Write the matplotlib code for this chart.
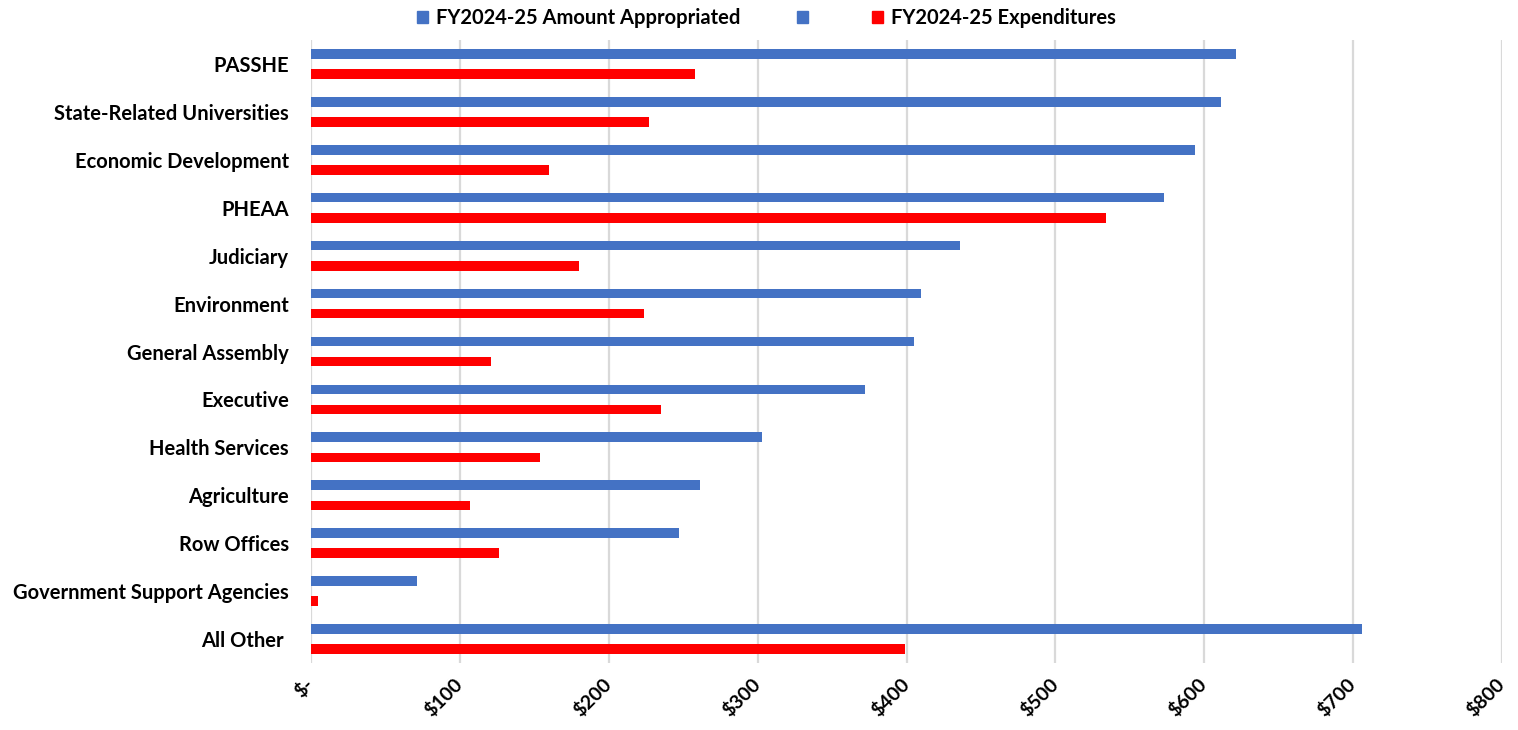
import matplotlib.pyplot as plt
import numpy as np
from matplotlib.patches import Patch

categories = [
    "PASSHE",
    "State-Related Universities",
    "Economic Development",
    "PHEAA",
    "Judiciary",
    "Environment",
    "General Assembly",
    "Executive",
    "Health Services",
    "Agriculture",
    "Row Offices",
    "Government Support Agencies",
    "All Other ",
]

# millions of dollars
appropriated = [621, 611, 594, 573, 436, 410, 405, 372, 303, 261, 247, 71, 706]
expenditures = [258, 227, 160, 534, 180, 224, 121, 235, 154, 107, 126, 5, 399]

xticks = [0, 100, 200, 300, 400, 500, 600, 700, 800]
xtick_labels = ["$-", "$100", "$200", "$300", "$400", "$500", "$600", "$700", "$800"]

BLUE = "#4472C4"
RED = "#FF0000"

plt.rcParams['font.family'] = ['Lato', 'DejaVu Sans']
plt.rcParams['font.weight'] = 'bold'

fig = plt.figure(figsize=(15.18, 7.3), dpi=100)
ax = fig.add_axes([311 / 1518, 1 - 663 / 730, (1502 - 311) / 1518, (663 - 40) / 730])

y = np.arange(len(categories))
ax.barh(y - 0.21, appropriated, height=0.2, color=BLUE)
ax.barh(y + 0.21, expenditures, height=0.2, color=RED)

ax.set_ylim(len(categories) - 0.5, -0.5)
ax.set_xlim(0, 800)
ax.set_yticks(y)
ax.set_yticklabels(categories, fontsize=14.5, fontweight='bold')
ax.set_xticks(xticks)
ax.set_xticklabels(xtick_labels, fontsize=14, fontweight='bold',
                   rotation=45, ha='right', va='center', rotation_mode='anchor')

ax.xaxis.grid(True, color='#D9D9D9', linewidth=1.6)
ax.set_axisbelow(True)
for s in ax.spines.values():
    s.set_visible(False)
ax.tick_params(axis='both', length=0)
ax.tick_params(axis='y', pad=16)
ax.tick_params(axis='x', pad=13)

# the original legend has a third (blank) blue entry
handles = [Patch(color=BLUE), Patch(color=BLUE), Patch(color=RED)]
labels = ["FY2024-25 Amount Appropriated", "", "FY2024-25 Expenditures"]
fig.legend(handles, labels, loc='center', bbox_to_anchor=(0.505, 1 - 18 / 730), ncol=3,
           frameon=False, fontsize=14.5, handlelength=0.55, handleheight=0.55,
           handletextpad=0.4, columnspacing=2.8)

fig.savefig("out.png", dpi=100)
